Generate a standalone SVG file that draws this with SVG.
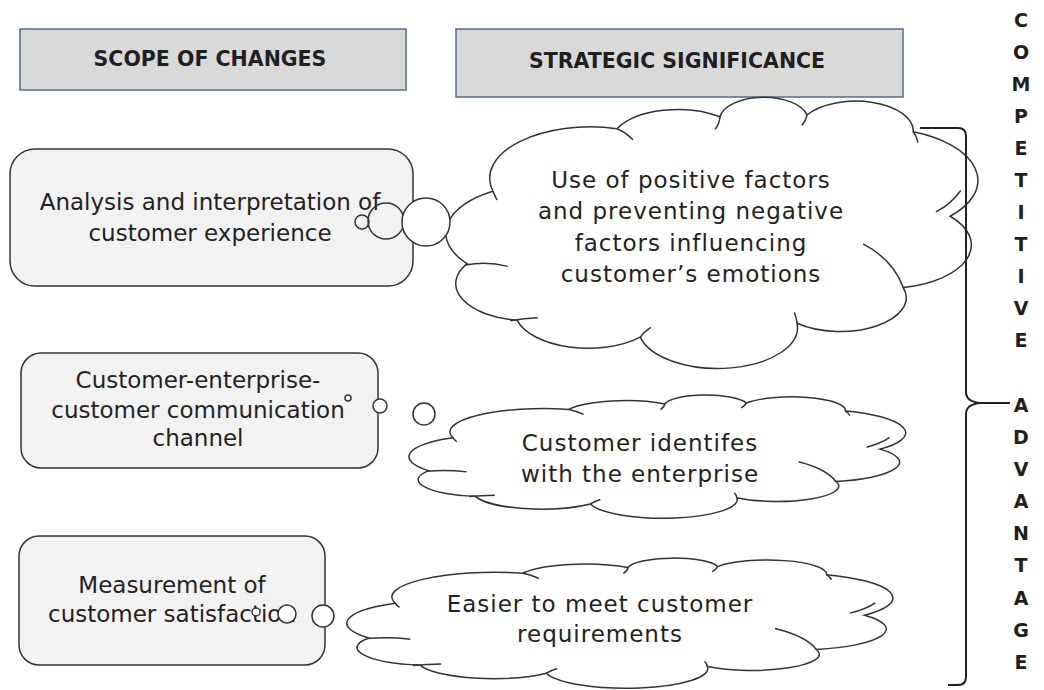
<svg xmlns="http://www.w3.org/2000/svg" xmlns:xlink="http://www.w3.org/1999/xlink" width="1044" height="690" viewBox="0 0 1044 690">
<style>
.hdr{fill:#d9d9d9;stroke:#4f6b91;stroke-width:1.5}
.hdrt{font-family:"DejaVu Sans","Liberation Sans",sans-serif;font-weight:bold;font-size:20.5px;fill:#1f1f1f;text-anchor:middle}
.box{fill:#f2f2f2;stroke:#333;stroke-width:1.5}
.bt{font-family:"DejaVu Sans","Liberation Sans",sans-serif;font-size:23px;fill:#222;text-anchor:middle}
.ct{font-family:"DejaVu Sans","Liberation Sans",sans-serif;font-size:23px;letter-spacing:1px;fill:#222;text-anchor:middle}
.cl{fill:#fff;stroke:#333;stroke-width:1.5;vector-effect:non-scaling-stroke}
.cli{fill:none;stroke:#333;stroke-width:1.5;vector-effect:non-scaling-stroke}
.bub{fill:#fff;stroke:#333;stroke-width:1.5}
.bubo{fill:none;stroke:#333;stroke-width:1.5}
.br{fill:none;stroke:#222;stroke-width:2}
.vt{font-family:"DejaVu Sans","Liberation Sans",sans-serif;font-weight:bold;font-size:19px;fill:#1f1f1f;text-anchor:middle}
</style>
<defs>
<g id="cloud">
<path class="cl" d="M 3.8 61.5 A 17.8 17.8 0 0 1 8.7 34.8 A 19 19 0 0 1 32.2 11.7 A 13 13 0 0 1 51.7 7.3 A 8.4 8.4 0 0 1 68.2 6.6 A 10.9 10.9 0 0 1 88.3 12.8 A 19.3 19.3 0 0 1 95.3 44 A 16 16 0 0 1 86.4 70.3 A 12.5 12.5 0 0 1 66.3 83.5 A 15.1 15.1 0 0 1 36.6 88.6 A 13.9 13.9 0 0 1 13.3 82.4 A 13.7 13.7 0 0 1 3.8 61.5 Z"/>
<path class="cli" d="M 32.2 11.7 Q 34 13.2 35.2 15.8 M 51.7 7.3 Q 51.6 9.8 50.8 11.9 M 68.2 6.6 Q 68 8.6 67.2 10.5 M 88.3 12.8 Q 89 14.5 89.2 16.8 M 92.6 42.4 Q 95.5 39.5 97.3 34.5 M 78.8 54.2 Q 84.5 60 86.4 70.3 M 66.3 83.5 Q 66.2 81.5 65.8 79.5 M 36.6 88.6 Q 37.3 86.7 38.6 85 M 12 82.6 Q 14.5 81.6 17.2 81.5 M 3.5 62 Q 7.5 60.5 11.5 62.5 M 8.7 34.8 Q 9 36.5 9.5 38"/>
</g>
</defs>
<rect width="1044" height="690" fill="#fff"/>

<g id="header-scope">
<rect class="hdr" x="20" y="29" width="386" height="61"/>
<text class="hdrt" x="210" y="66">SCOPE OF CHANGES</text>
</g>
<g id="header-strategic">
<rect class="hdr" x="456" y="29" width="447" height="68"/>
<text class="hdrt" x="677" y="68">STRATEGIC SIGNIFICANCE</text>
</g>

<g id="box-analysis">
<rect class="box" x="10" y="149" width="403" height="137" rx="25"/>
<text class="bt" x="210" y="210">Analysis and interpretation of</text>
<text class="bt" x="210" y="241">customer experience</text>
</g>
<g id="box-channel">
<rect class="box" x="21" y="353" width="357" height="115" rx="20"/>
<text class="bt" x="198" y="388">Customer-enterprise-</text>
<text class="bt" x="198" y="418">customer communication</text>
<text class="bt" x="198" y="446">channel</text>
</g>
<g id="box-measurement">
<rect class="box" x="19" y="536" width="306" height="129" rx="20"/>
<text class="bt" x="172" y="593">Measurement of</text>
<text class="bt" x="172" y="622">customer satisfaction</text>
</g>

<g id="cloud-emotions">
<use xlink:href="#cloud" href="#cloud" transform="translate(447,97) scale(5.28,2.71)"/>
<text class="ct" x="691" y="188">Use of positive factors</text>
<text class="ct" x="691" y="219">and preventing negative</text>
<text class="ct" x="691" y="251">factors influencing</text>
<text class="ct" x="691" y="282">customer’s emotions</text>
</g>
<g id="cloud-identifies">
<use xlink:href="#cloud" href="#cloud" transform="translate(410,395) scale(4.93,1.23)"/>
<text class="ct" x="640" y="451">Customer identifes</text>
<text class="ct" x="640" y="482">with the enterprise</text>
</g>
<g id="cloud-requirements">
<use xlink:href="#cloud" href="#cloud" transform="translate(348,558) scale(5.42,1.30)"/>
<text class="ct" x="600" y="612">Easier to meet customer</text>
<text class="ct" x="600" y="642">requirements</text>
</g>

<g id="connectors">
<circle class="bubo" cx="362" cy="222" r="7"/>
<circle class="bubo" cx="386" cy="221" r="18"/>
<circle class="bub" cx="426" cy="222" r="24"/>
<circle class="bub" cx="348" cy="398" r="3"/>
<circle class="bub" cx="380" cy="406" r="7"/>
<circle class="bub" cx="424" cy="414" r="11"/>
<circle class="bub" cx="256" cy="612" r="4"/>
<circle class="bub" cx="287" cy="614" r="9"/>
<circle class="bub" cx="323" cy="616" r="11"/>
<path class="br" d="M 920 128 H 958 Q 966 128 966 136 V 392 Q 966 402 981 403 Q 966 404 966 414 V 677 Q 966 685 958 685 H 948 M 981 403 H 1010"/>
</g>

<g id="label-competitive-advantage">
<text class="vt"><tspan x="1021" y="27">C</tspan><tspan x="1021" y="59">O</tspan><tspan x="1021" y="91">M</tspan><tspan x="1021" y="123">P</tspan><tspan x="1021" y="155">E</tspan><tspan x="1021" y="187">T</tspan><tspan x="1021" y="219">I</tspan><tspan x="1021" y="251">T</tspan><tspan x="1021" y="283">I</tspan><tspan x="1021" y="315">V</tspan><tspan x="1021" y="347">E</tspan><tspan x="1021" y="412">A</tspan><tspan x="1021" y="444">D</tspan><tspan x="1021" y="476">V</tspan><tspan x="1021" y="508">A</tspan><tspan x="1021" y="540">N</tspan><tspan x="1021" y="572">T</tspan><tspan x="1021" y="605">A</tspan><tspan x="1021" y="637">G</tspan><tspan x="1021" y="669">E</tspan></text>
</g>
</svg>
